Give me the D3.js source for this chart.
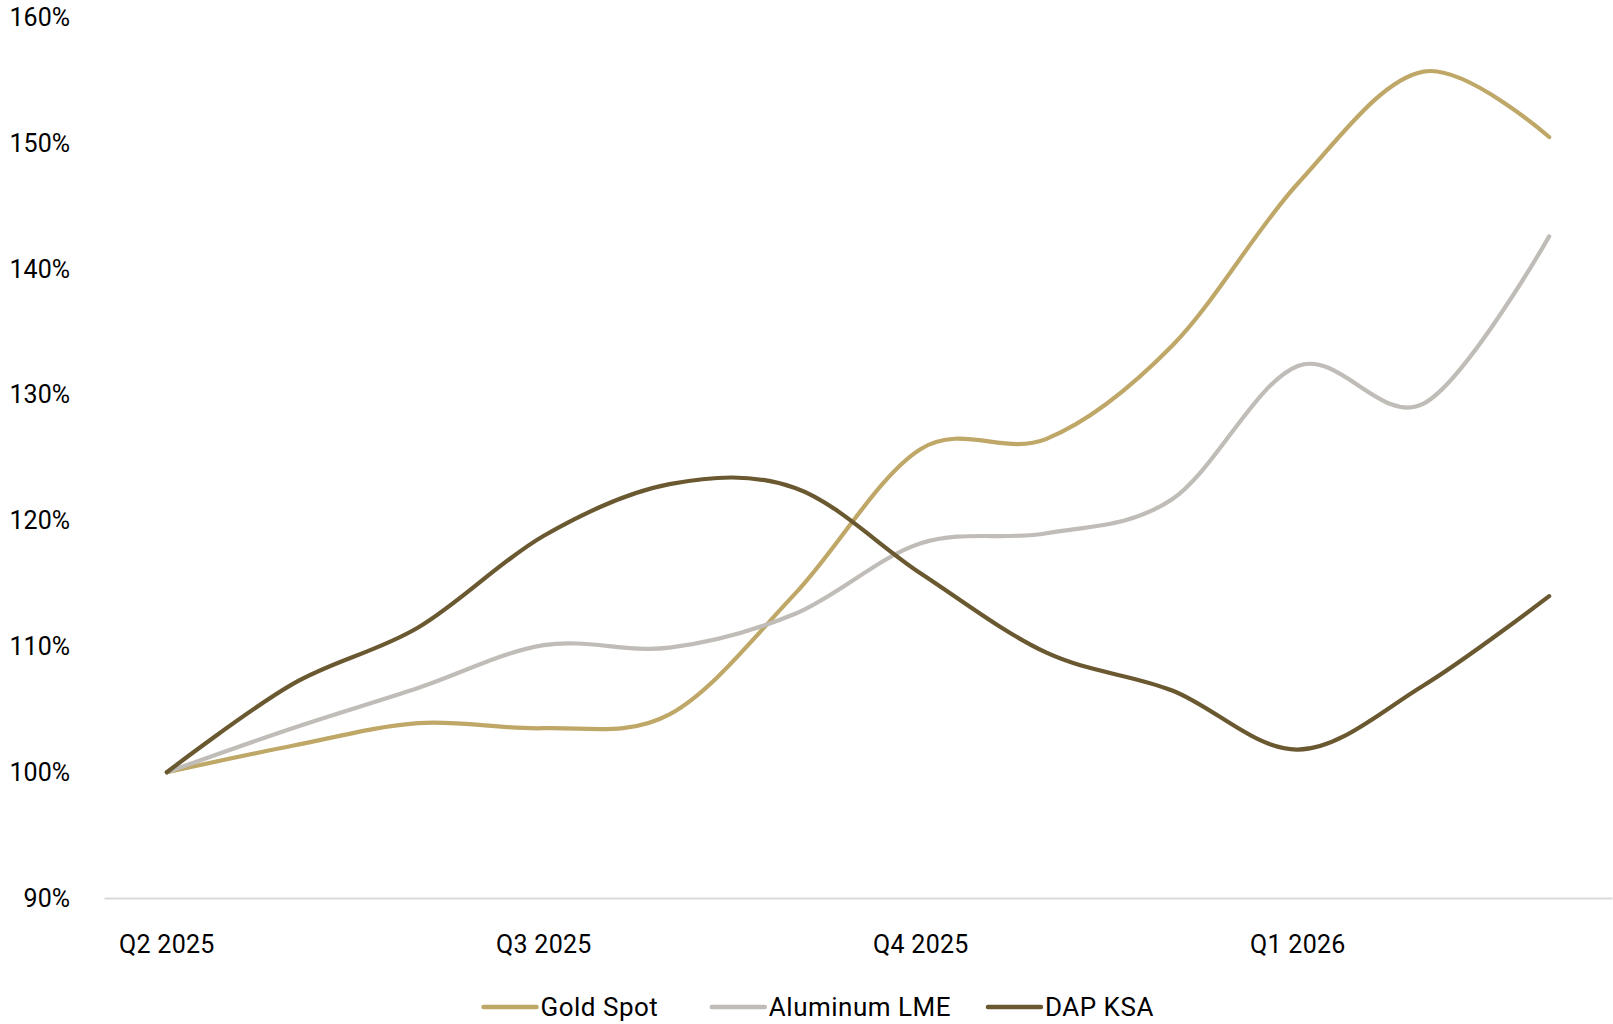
<!DOCTYPE html>
<html>
<head>
<meta charset="utf-8">
<script src="https://cdn.jsdelivr.net/npm/d3@7"></script>
<style>
  html, body { margin: 0; padding: 0; background: #fff; }
  svg { display: block; }
  text { font-family: Roboto, "Noto Sans", sans-serif; fill: #000; }
</style>
</head>
<body>
<svg id="chart" width="1613" height="1024"></svg>
<script>
// ---- data ----
const months = ["2025-04","2025-05","2025-06","2025-07","2025-08","2025-09",
                "2025-10","2025-11","2025-12","2026-01","2026-02","2026-03"];
const quarterLabels = {"2025-04":"Q2 2025","2025-07":"Q3 2025","2025-10":"Q4 2025","2026-01":"Q1 2026"};
const yTicks = [90, 100, 110, 120, 130, 140, 150, 160];
const goldSpot    = [100, 102.1, 103.9, 103.5, 104.6, 114.2, 125.7, 126.5, 133.9, 146.8, 155.7, 150.5];
const aluminumLME = [100, 103.5, 106.7, 110.1, 109.9, 112.6, 118.2, 119.0, 121.7, 132.3, 129.3, 142.6];
const dapKSA      = [100, 107.0, 111.5, 118.8, 122.9, 122.6, 115.8, 109.5, 106.5, 101.8, 106.9, 114.0];
const seriesNames = ["Gold Spot", "Aluminum LME", "DAP KSA"];
const seriesColors = ["#BEA767", "#C0BCB7", "#6A5830"];

const series = [goldSpot, aluminumLME, dapKSA].map((vals, i) => ({
  name: seriesNames[i], color: seriesColors[i], values: vals
}));

// ---- layout ----
const svg = d3.select("#chart");
const plotLeft = 104, plotRight = 1612, plotTop = 17.5, plotBottom = 898;

const x = d3.scaleBand().domain(months).range([plotLeft, plotRight]).paddingInner(0).paddingOuter(0);
const xc = m => x(m) + x.bandwidth() / 2;
const y = d3.scaleLinear().domain([90, 160]).range([plotBottom, plotTop]);

// y axis labels (no line, no ticks)
const yAxis = d3.axisLeft(y).tickValues(yTicks).tickFormat(d => d + "%").tickSize(0).tickPadding(0);
const yg = svg.append("g").attr("transform", "translate(70,0)").call(yAxis);
yg.select(".domain").remove();
yg.selectAll("text").attr("font-size", 25).attr("font-family", "Roboto, sans-serif").attr("fill", "#000");

// x axis baseline
const xAxis = d3.axisBottom(x).tickValues(months.filter(m => quarterLabels[m]))
  .tickFormat(m => quarterLabels[m]).tickSize(0).tickPadding(0);
const xg = svg.append("g").attr("transform", `translate(0,${plotBottom})`).call(xAxis);
xg.select(".domain").attr("stroke", "#D9D9D9").attr("stroke-width", 2);
xg.selectAll("text").attr("font-size", 25).attr("font-family", "Roboto, sans-serif")
  .attr("fill", "#000").attr("dy", 0).attr("y", 55).attr("letter-spacing", "0.3px");

// lines
const line = d3.line()
  .x((d, i) => xc(months[i]))
  .y(d => y(d))
  .curve(d3.curveCardinal.tension(0));

svg.append("g").selectAll("path").data(series).join("path")
  .attr("d", d => line(d.values))
  .attr("fill", "none")
  .attr("stroke", d => d.color)
  .attr("stroke-width", 4.2)
  .attr("stroke-linecap", "round")
  .attr("stroke-linejoin", "round");

// legend
const legendY = 1007, lineLen = 53, textGap = 4;
const itemGaps = [53.5, 37];
const lg = svg.append("g");
let cx = 483.5;
series.forEach((s, i) => {
  const g = lg.append("g");
  g.append("line").attr("x1", cx).attr("x2", cx + lineLen).attr("y1", legendY).attr("y2", legendY)
    .attr("stroke", s.color).attr("stroke-width", 4.5).attr("stroke-linecap", "round");
  const t = g.append("text").attr("x", cx + lineLen + textGap).attr("y", legendY)
    .attr("dy", "0.35em").attr("font-size", 26).attr("letter-spacing", "0.5px").text(s.name);
  const w = t.node().getComputedTextLength();
  cx += lineLen + textGap + w + (itemGaps[i] || 0);
});
</script>
</body>
</html>
